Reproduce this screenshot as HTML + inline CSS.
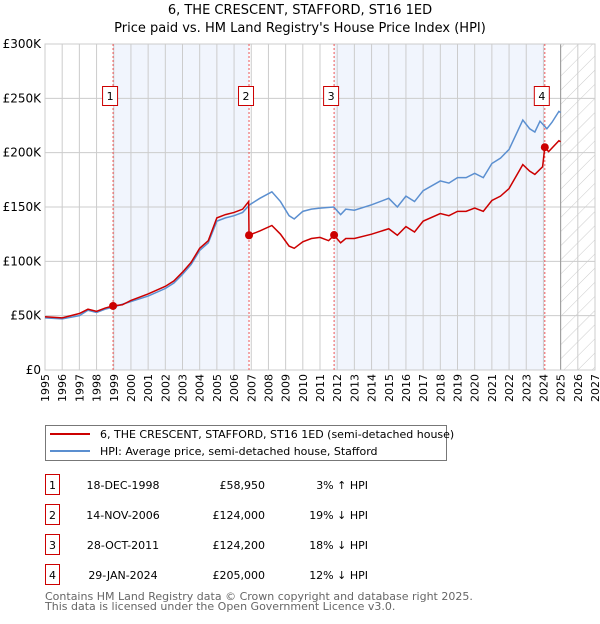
<!DOCTYPE html>
<html><head><meta charset="utf-8"><style>
body{margin:0;background:#fff;font-family:"DejaVu Sans","Liberation Sans",sans-serif;}
svg text{font-family:"DejaVu Sans","Liberation Sans",sans-serif;}
</style></head><body>
<svg id="c" width="600" height="620" xmlns="http://www.w3.org/2000/svg">
<defs><pattern id="hatch" width="10" height="10" patternUnits="userSpaceOnUse" patternTransform="rotate(45)"><line x1="0" y1="0" x2="0" y2="10" stroke="#ccc" stroke-width="1"/></pattern></defs>
<text x="300" y="14" text-anchor="middle" font-size="13">6, THE CRESCENT, STAFFORD, ST16 1ED</text>
<text x="300" y="32" text-anchor="middle" font-size="13">Price paid vs. HM Land Registry's House Price Index (HPI)</text>
<g id="plot"></g>
<g>
<rect x="45.5" y="425.5" width="401" height="35" fill="#fff" stroke="#777"/>
<line x1="50" y1="434" x2="90" y2="434" stroke="#cc0000" stroke-width="2"/>
<text x="100" y="438" font-size="11">6, THE CRESCENT, STAFFORD, ST16 1ED (semi-detached house)</text>
<line x1="50" y1="451" x2="90" y2="451" stroke="#5b8fd0" stroke-width="2"/>
<text x="100" y="455" font-size="11">HPI: Average price, semi-detached house, Stafford</text>
</g>
<g id="table" font-size="11"></g>
<text x="45" y="600" font-size="11" fill="#666">Contains HM Land Registry data © Crown copyright and database right 2025.</text>
<text x="45" y="610" font-size="11" fill="#666">This data is licensed under the Open Government Licence v3.0.</text>
</svg>
<script>
const hpiYears=[1995,1996,1997,1997.5,1998,1998.5,1999,2000,2001,2002,2002.5,2003,2003.5,2004,2004.5,2005,2005.5,2006,2006.5,2006.9,2007.5,2008.2,2008.7,2009.2,2009.5,2010,2010.5,2011,2011.8,2012.2,2012.5,2013,2014,2015,2015.5,2016,2016.5,2017,2018,2018.5,2019,2019.5,2020,2020.5,2021,2021.5,2022,2022.8,2023.2,2023.5,2023.8,2024.2,2024.5,2024.9,2025];
const hpiValues=[48,47,50,55,53,56,58,63,68,75,80,88,97,110,117,137,140,142,145,152,158,164,155,142,139,146,148,149,150,143,148,147,152,158,150,160,155,165,174,172,177,177,181,177,190,195,203,230,222,219,229,222,228,238,237];
const priceYears=[1995,1996,1997,1997.5,1998,1998.5,1998.96,1999.5,2000,2001,2002,2002.5,2003,2003.5,2004,2004.5,2005,2005.5,2006,2006.5,2006.85,2006.87,2007.5,2008.2,2008.7,2009.2,2009.5,2010,2010.5,2011,2011.5,2011.82,2012.2,2012.5,2013,2014,2015,2015.5,2016,2016.5,2017,2018,2018.5,2019,2019.5,2020,2020.5,2021,2021.5,2022,2022.8,2023.2,2023.5,2023.95,2024.08,2024.3,2024.9,2025];
const priceValues=[49,48,52,56,54,57,59,60,64,70,77,82,90,99,112,119,140,143,145,148,155,124,128,133,125,114,112,118,121,122,119,124,117,121,121,125,130,124,132,127,137,144,142,146,146,149,146,156,160,167,189,183,180,187,205,201,211,210];
const saleLabels=["1","2","3","4"];
const saleYears=[1998.96,2006.87,2011.82,2024.08];
const salePrices=[58.95,124,124.2,205];
const saleDates=["18-DEC-1998","14-NOV-2006","28-OCT-2011","29-JAN-2024"];
const salePriceText=["£58,950","£124,000","£124,200","£205,000"];
const saleHpiText=["3% ↑ HPI","19% ↓ HPI","18% ↓ HPI","12% ↓ HPI"];
const yTicks=[0,50,100,150,200,250,300];
const yTickLabels=["£0","£50K","£100K","£150K","£200K","£250K","£300K"];
const xTicks=[1995,1996,1997,1998,1999,2000,2001,2002,2003,2004,2005,2006,2007,2008,2009,2010,2011,2012,2013,2014,2015,2016,2017,2018,2019,2020,2021,2022,2023,2024,2025,2026,2027];
const X0=45,X1=595,Y0=370,Y1=44;
const xs=y=>X0+(y-1995)/32*(X1-X0);
const ys=v=>Y0-v/300*(Y0-Y1);
const NS="http://www.w3.org/2000/svg";
const plot=document.getElementById('plot');
function mk(tag,attrs,parent){const e=document.createElementNS(NS,tag);for(const k in attrs)e.setAttribute(k,attrs[k]);(parent||plot).appendChild(e);return e;}
let e;
e=mk('rect',{x:X0,y:Y1,width:X1-X0,height:Y0-Y1,fill:'#fff'});


e=mk('rect',{x:xs(saleYears[0]),y:Y1,width:xs(saleYears[1])-xs(saleYears[0]),height:Y0-Y1,fill:'#eef3fd',opacity:0.8});


e=mk('rect',{x:xs(saleYears[2]),y:Y1,width:xs(saleYears[3])-xs(saleYears[2]),height:Y0-Y1,fill:'#eef3fd',opacity:0.8});


e=mk('rect',{x:xs(2025),y:Y1,width:X1-xs(2025),height:Y0-Y1,fill:'url(#hatch)'});


xTicks.forEach(t=>{
 e=mk('line',{x1:xs(t),x2:xs(t),y1:Y1,y2:Y0,stroke:'#ccc','stroke-width':1});
 
 
 e=mk('text',{x:0,y:0,transform:`translate(${xs(t)+4},${Y0+4}) rotate(-90)`,'text-anchor':'end','font-size':11});
 e.textContent=t;
 
 
});
yTicks.forEach((t,i)=>{
 e=mk('line',{x1:X0,x2:X1,y1:ys(t),y2:ys(t),stroke:'#ccc','stroke-width':1});
 
 
 e=mk('text',{x:X0-4,y:ys(t)+4,'text-anchor':'end','font-size':12});
 e.textContent=yTickLabels[i];
 
 
});
e=mk('line',{x1:xs(2025),x2:xs(2025),y1:Y1,y2:Y0,stroke:'#999','stroke-width':1});


e=mk('rect',{x:X0,y:Y1,width:X1-X0,height:Y0-Y1,fill:'none',stroke:'#ccc'});


saleYears.forEach((s,i)=>{
 e=mk('line',{x1:xs(s),x2:xs(s),y1:Y1,y2:Y0,stroke:'#e55','stroke-width':1,'stroke-dasharray':'2,2'});
 
 
});
e=mk('polyline',{points:hpiYears.map((y,i)=>xs(y)+','+ys(hpiValues[i])).join(' '),fill:'none',stroke:'#5b8fd0','stroke-width':1.5});


e=mk('polyline',{points:priceYears.map((y,i)=>xs(y)+','+ys(priceValues[i])).join(' '),fill:'none',stroke:'#cc0000','stroke-width':1.5});


saleYears.forEach((s,i)=>{
 e=mk('circle',{cx:xs(s),cy:ys(salePrices[i]),r:4,fill:'#cc0000'});
 
 
 const bx=xs(s)-9;
 e=mk('rect',{x:bx-1.5,y:86.5,width:15,height:19,fill:'#fff',stroke:'#cc0000'});
 
 
 e=mk('text',{x:bx+6,y:100,'text-anchor':'middle','font-size':11});
 e.textContent=saleLabels[i];
 
 
});
const tb=document.getElementById('table');
saleLabels.forEach((l,i)=>{
 const y=482+i*30;
 e=mk('rect',{x:45.5,y:y-7.5,width:14,height:20,fill:'#fff',stroke:'#cc0000'},tb);
 
 
 e=mk('text',{x:52.5,y:y+7,'text-anchor':'middle'},tb);e.textContent=l;
 
 
 e=mk('text',{x:123,y:y+7,'text-anchor':'middle'},tb);e.textContent=saleDates[i];
 
 
 e=mk('text',{x:265,y:y+7,'text-anchor':'end'},tb);e.textContent=salePriceText[i];
 
 
 e=mk('text',{x:368,y:y+7,'text-anchor':'end'},tb);e.textContent=saleHpiText[i];
 
 
});
</script>
</body></html>
